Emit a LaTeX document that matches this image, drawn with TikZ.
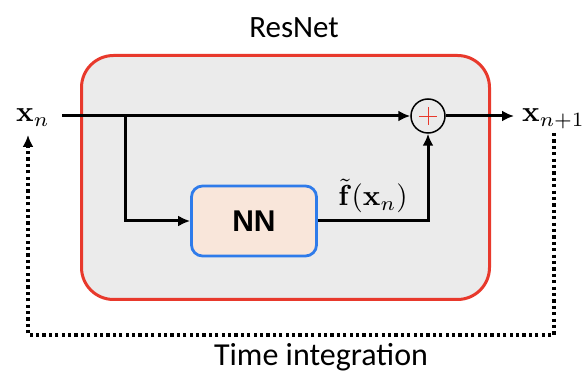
\documentclass[tikz,border=0pt]{standalone}
\usepackage{graphicx}
\usepackage[no-math]{fontspec}
\setmainfont{Carlito}
\newfontfamily\nnfont{Liberation Sans}
\usetikzlibrary{arrows.meta}
\definecolor{boxred}{HTML}{E8392C}
\definecolor{boxgray}{HTML}{EBEBEB}
\definecolor{nnblue}{HTML}{2F7BEA}
\definecolor{nnfill}{HTML}{F9E6DA}
\newcommand{\bigmath}[1]{\scalebox{2.9}{$#1$}}
\tikzset{
  tip/.tip={Latex[length=12pt,width=11pt]},
  flow/.style={line width=3pt, -tip},
  loop/.style={line width=3.2pt, dash pattern=on 3.2pt off 3.2pt},
  mathlbl/.style={inner sep=0pt},
}
\begin{document}
\begin{tikzpicture}[x=1pt,y=-1pt]
  \useasboundingbox (0,0) rectangle (587,374);
  % ResNet block
  \node[draw=boxred, fill=boxgray, line width=3pt, rounded corners=32pt,
        minimum width=408pt, minimum height=244pt, inner sep=0pt] (res) at (285.5,177.5) {};
  \node[font=\fontsize{31}{36}\selectfont, anchor=base, inner sep=0pt] (title) at (294,38) {ResNet};
  % network box
  \node[draw=nnblue, fill=nnfill, line width=2.8pt, rounded corners=11pt,
        minimum width=125pt, minimum height=70pt, inner sep=0pt,
        font=\nnfont\bfseries\fontsize{30}{34}\selectfont] (nn) at (254,221) {NN};
  % summation
  \node[draw, circle, line width=1.5pt, minimum size=34pt, inner sep=0pt] (sum) at (428,116) {};
  \draw[boxred, line width=0.9pt] ([xshift=-9pt]sum.center) -- ([xshift=9pt]sum.center)
        ([yshift=-9pt]sum.center) -- ([yshift=9pt]sum.center);
  % inputs and outputs
  \node[mathlbl, anchor=base west] (xin) at (16,122) {\bigmath{\mathbf{x}_n}};
  \node[mathlbl, anchor=base west] (xout) at (522,122) {\bigmath{\mathbf{x}_{n+1}}};
  \coordinate (start) at (62,116);
  \coordinate (split) at (125,116);
  \coordinate (out) at (514,116);
  \node[mathlbl, anchor=base] (flbl) at (373,206) {\bigmath{\tilde{\mathbf{f}}(\mathbf{x}_n)}};
  % connectors
  \draw[flow] (start) -- (sum.west);
  \draw[flow] (split) |- (nn.west);
  \draw[flow] (nn.east) -| (sum.south);
  \draw[flow] (sum.east) -- (out);
  % time-integration loop
  \draw[loop, -tip] (554,133) -- (554,335) -- (28,335) -- (28,135);
  \node[font=\fontsize{32}{36}\selectfont, anchor=base, inner sep=0pt] (tlbl) at (321,366) {Time integration};
\end{tikzpicture}
\end{document}
